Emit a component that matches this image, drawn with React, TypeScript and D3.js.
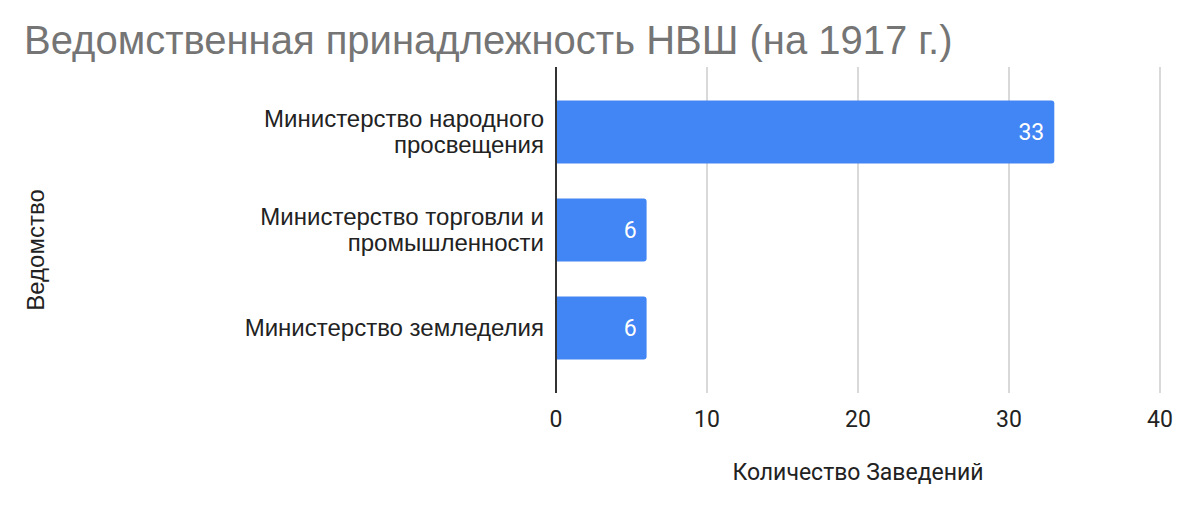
import { useEffect, useRef } from "react";
import * as d3 from "d3";

const categories = [
  ["Министерство народного", "просвещения"],
  ["Министерство торговли и", "промышленности"],
  ["Министерство земледелия"],
];
const values = [33, 6, 6];
const xTicks = [0, 10, 20, 30, 40];

const TITLE = "Ведомственная принадлежность НВШ (на 1917 г.)";
const X_TITLE = "Количество Заведений";
const Y_TITLE = "Ведомство";

const W = 1200;
const H = 508;
const SANS = "'Liberation Sans', Arial, sans-serif";
const ROBOTO = "Roboto, sans-serif";

export default function App() {
  const svgRef = useRef<SVGSVGElement>(null);

  useEffect(() => {
    const svg = svgRef.current;
    if (!svg) return;
    const sel = d3.select(svg);
    sel.selectAll("*").remove();

    const left = 556;
    const right = 1160;
    const top = 67;
    const bottom = 393;

    const x = d3.scaleLinear().domain([0, 40]).range([left, right]);
    const y = d3
      .scaleBand<number>()
      .domain(d3.range(categories.length))
      .range([top, bottom])
      .paddingInner(0.357)
      .paddingOuter(0.342);

    sel.append("rect").attr("width", W).attr("height", H).attr("fill", "#fff");

    // title
    sel
      .append("text")
      .attr("x", 24)
      .attr("y", 54)
      .attr("font-family", SANS)
      .attr("font-size", 40)
      .attr("fill", "#757575")
      .text(TITLE);

    // grid lines
    sel
      .append("g")
      .selectAll("line")
      .data(xTicks.filter((d) => d !== 0))
      .enter()
      .append("line")
      .attr("x1", (d) => x(d))
      .attr("x2", (d) => x(d))
      .attr("y1", top)
      .attr("y2", bottom)
      .attr("stroke", "#cccccc")
      .attr("stroke-width", 1.5);

    // bars
    const r = 3;
    sel
      .append("g")
      .selectAll("path")
      .data(values)
      .enter()
      .append("path")
      .attr("fill", "#4285f4")
      .attr("d", (d, i) => {
        const x0 = x(0);
        const x1 = x(d);
        const y0 = y(i) || 0;
        const h = y.bandwidth();
        return `M${x0},${y0}H${x1 - r}Q${x1},${y0} ${x1},${y0 + r}V${y0 + h - r}Q${x1},${y0 + h} ${x1 - r},${y0 + h}H${x0}Z`;
      });

    // value labels
    sel
      .append("g")
      .selectAll("text")
      .data(values)
      .enter()
      .append("text")
      .attr("x", (d) => x(d) - 10)
      .attr("y", (_d, i) => (y(i) || 0) + y.bandwidth() / 2)
      .attr("dy", "0.35em")
      .attr("text-anchor", "end")
      .attr("font-family", ROBOTO)
      .attr("font-size", 23)
      .attr("fill", "#ffffff")
      .text((d) => String(d));

    // axis at zero
    sel
      .append("line")
      .attr("x1", x(0))
      .attr("x2", x(0))
      .attr("y1", top)
      .attr("y2", bottom)
      .attr("stroke", "#333333")
      .attr("stroke-width", 2);

    // x tick labels
    sel
      .append("g")
      .selectAll("text")
      .data(xTicks)
      .enter()
      .append("text")
      .attr("x", (d) => x(d))
      .attr("y", 427)
      .attr("text-anchor", "middle")
      .attr("font-family", ROBOTO)
      .attr("font-size", 23)
      .attr("fill", "#222")
      .text((d) => String(d));

    // category labels
    const lh = 26;
    const cat = sel
      .append("g")
      .selectAll("text")
      .data(categories)
      .enter()
      .append("text")
      .attr("text-anchor", "end")
      .attr("font-family", SANS)
      .attr("font-size", 24)
      .attr("fill", "#222")
      .attr("transform", (lines, i) => {
        const cy = (y(i) || 0) + y.bandwidth() / 2;
        const y0 = cy - ((lines.length - 1) * lh) / 2;
        return `translate(${left - 12},${y0})`;
      });
    cat
      .selectAll("tspan")
      .data((d) => d)
      .enter()
      .append("tspan")
      .attr("x", 0)
      .attr("y", (_d, j) => j * lh)
      .attr("dy", "0.35em")
      .text((d) => d);

    // axis titles
    sel
      .append("text")
      .attr("x", x(20))
      .attr("y", 480)
      .attr("text-anchor", "middle")
      .attr("font-family", ROBOTO)
      .attr("font-size", 23)
      .attr("fill", "#222")
      .text(X_TITLE);

    sel
      .append("text")
      .attr("transform", `translate(44,250) rotate(-90)`)
      .attr("text-anchor", "middle")
      .attr("font-family", SANS)
      .attr("font-size", 24)
      .attr("fill", "#222")
      .text(Y_TITLE);
  }, []);

  return (
    <div style={{ position: "absolute", left: 0, top: 0 }}>
      <svg ref={svgRef} width={W} height={H} style={{ display: "block" }} />
    </div>
  );
}
